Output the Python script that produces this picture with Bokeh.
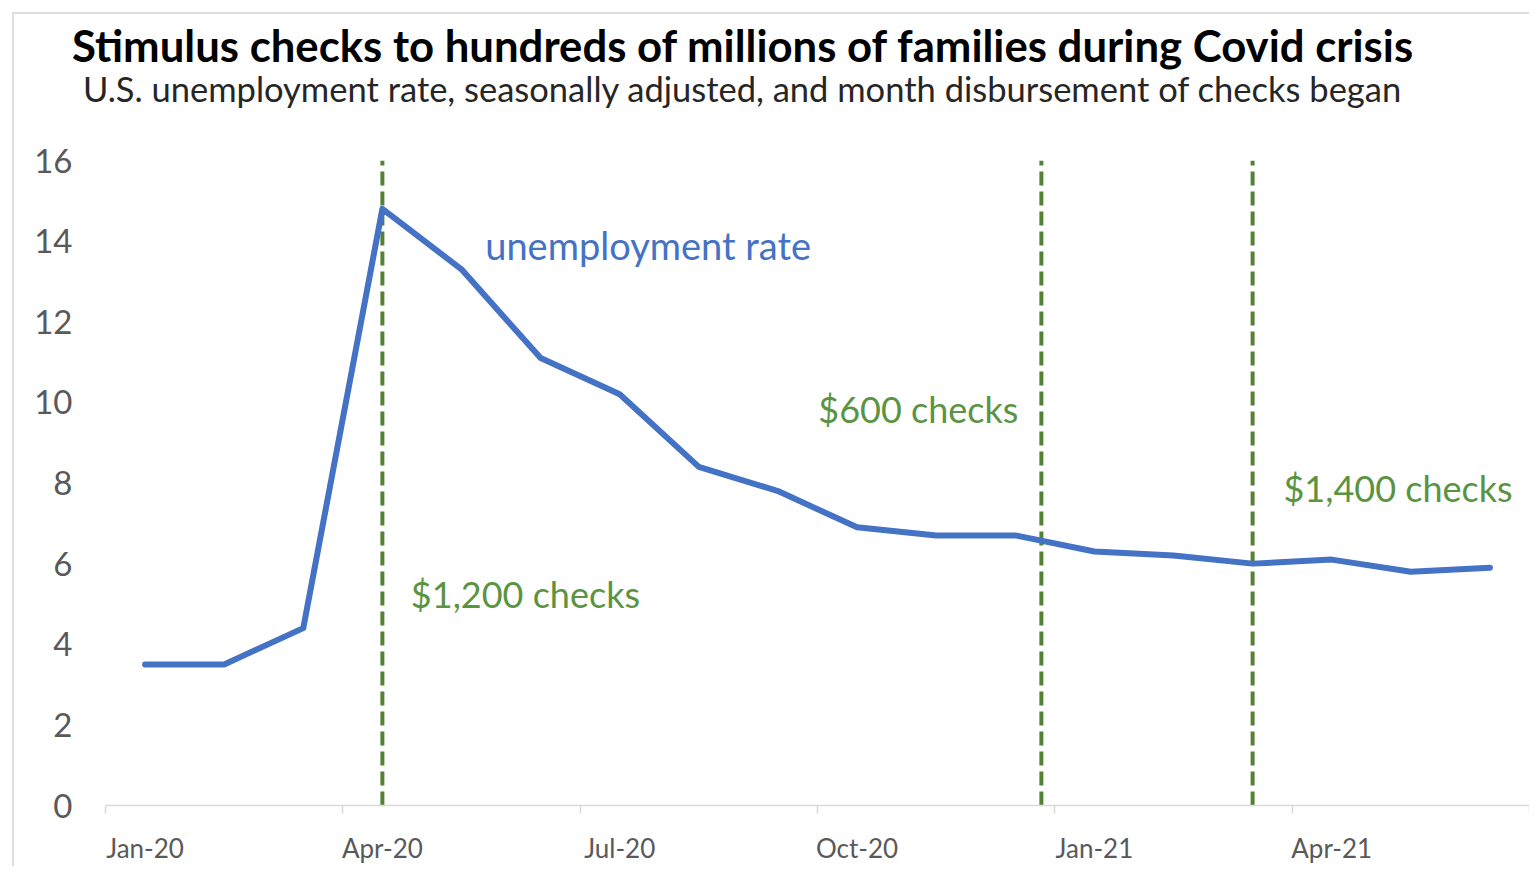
from bokeh.plotting import figure
from bokeh.models import Range1d, FixedTicker, Label, Div
from bokeh.layouts import column
from bokeh.embed import file_html
from bokeh.resources import INLINE

# ---- data ----
months = ["Jan-20", "Feb-20", "Mar-20", "Apr-20", "May-20", "Jun-20", "Jul-20", "Aug-20",
          "Sep-20", "Oct-20", "Nov-20", "Dec-20", "Jan-21", "Feb-21", "Mar-21", "Apr-21",
          "May-21", "Jun-21"]
unemployment = [3.5, 3.5, 4.4, 14.8, 13.3, 11.1, 10.2, 8.4, 7.8, 6.9, 6.7, 6.7,
                6.3, 6.2, 6.0, 6.1, 5.8, 5.9]
# month index at which disbursement of each round of checks began
check_month_pos = [3.0, 11.33, 14.0]
check_labels = ["$1,200 checks", "$600 checks", "$1,400 checks"]
x_tick_labels = ["Jan-20", "Apr-20", "Jul-20", "Oct-20", "Jan-21", "Apr-21"]
y_ticks = [0, 2, 4, 6, 8, 10, 12, 14, 16]

title_text = "Stimulus checks to hundreds of millions of families during Covid crisis"
subtitle_text = "U.S. unemployment rate, seasonally adjusted, and month disbursement of checks began"

FONT = "Lato"
BLUE = "#4472C4"
GREEN_LINE = "#548235"
GREEN_TEXT = "#5A9442"
GRAY = "#595959"

xs = list(range(len(months)))

p = figure(frame_width=1424, frame_height=645,
           min_border_left=91, min_border_right=0, min_border_top=20, min_border_bottom=50,
           x_range=Range1d(-0.5, len(months) - 0.5), y_range=Range1d(0, 16),
           output_backend="svg", toolbar_location=None)
p.outline_line_color = None
p.xgrid.visible = False
p.ygrid.visible = False
p.background_fill_color = "white"
p.border_fill_color = "white"

# x axis
label_pos = [xs[i] for i in range(0, len(months), 3)]
p.xaxis.ticker = FixedTicker(ticks=label_pos,
                             minor_ticks=[i - 0.5 for i in range(0, len(months) + 1, 3)])
p.xaxis.major_label_overrides = {pos: lab for pos, lab in zip(label_pos, x_tick_labels)}
p.xaxis.axis_line_color = "#D9D9D9"
p.xaxis.axis_line_width = 1.5
p.xaxis.major_tick_line_color = None
p.xaxis.major_tick_out = 0
p.xaxis.major_tick_in = 0
p.xaxis.minor_tick_line_color = "#D9D9D9"
p.xaxis.minor_tick_line_width = 1.5
p.xaxis.minor_tick_out = 8
p.xaxis.minor_tick_in = 0
p.xaxis.major_label_standoff = 18
p.xaxis.major_label_text_font = FONT
p.xaxis.major_label_text_font_size = "26px"
p.xaxis.major_label_text_color = GRAY

# y axis
p.yaxis.ticker = FixedTicker(ticks=y_ticks)
p.yaxis.axis_line_color = None
p.yaxis.major_tick_line_color = None
p.yaxis.minor_tick_line_color = None
p.yaxis.major_label_standoff = 27
p.yaxis.major_label_text_font = FONT
p.yaxis.major_label_text_font_size = "33px"
p.yaxis.major_label_text_color = GRAY

# vertical dashed lines
p.segment(x0=check_month_pos, x1=check_month_pos, y0=[0] * 3, y1=[16] * 3,
          line_color=GREEN_LINE, line_width=4, line_dash="14 6")

# unemployment line
p.line(xs, unemployment, line_color=BLUE, line_width=6, line_join="round", line_cap="round")

# annotations
ann = [
    ("unemployment rate", 4.3, 13.9, BLUE, "38px"),
    (check_labels[0], 3.36, 5.24, GREEN_TEXT, "36px"),
    (check_labels[1], 8.51, 9.83, GREEN_TEXT, "36px"),
    (check_labels[2], 14.39, 7.87, GREEN_TEXT, "36px"),
]
for txt, x, y, c, fs in ann:
    p.add_layout(Label(x=x, y=y, text=txt, text_color=c, text_font=FONT,
                       text_font_size=fs, text_baseline="middle", text_align="left"))

# title block
header_html = (
    "<div style='position:relative;width:1515px;height:126px;'>"
    "<div style='position:absolute;left:58px;top:10px;white-space:nowrap;"
    "font-family:Lato;font-weight:bold;font-size:43.7px;line-height:1;color:#000;'>"
    + title_text + "</div>"
    "<div style='position:absolute;left:69px;top:58px;white-space:nowrap;"
    "font-family:Lato;font-weight:normal;font-size:34.5px;line-height:1;color:#262626;'>"
    + subtitle_text + "</div></div>"
)
header = Div(text=header_html, width=1515, height=126, margin=0)
p.margin = 0

layout = column(header, p, spacing=0)
layout.styles = {"margin-left": "12px", "margin-top": "12px",
                 "border-top": "2px solid #DEDEDE", "border-left": "2px solid #DEDEDE",
                 "background-color": "white"}

open("out.html", "w").write(file_html(layout, INLINE))
